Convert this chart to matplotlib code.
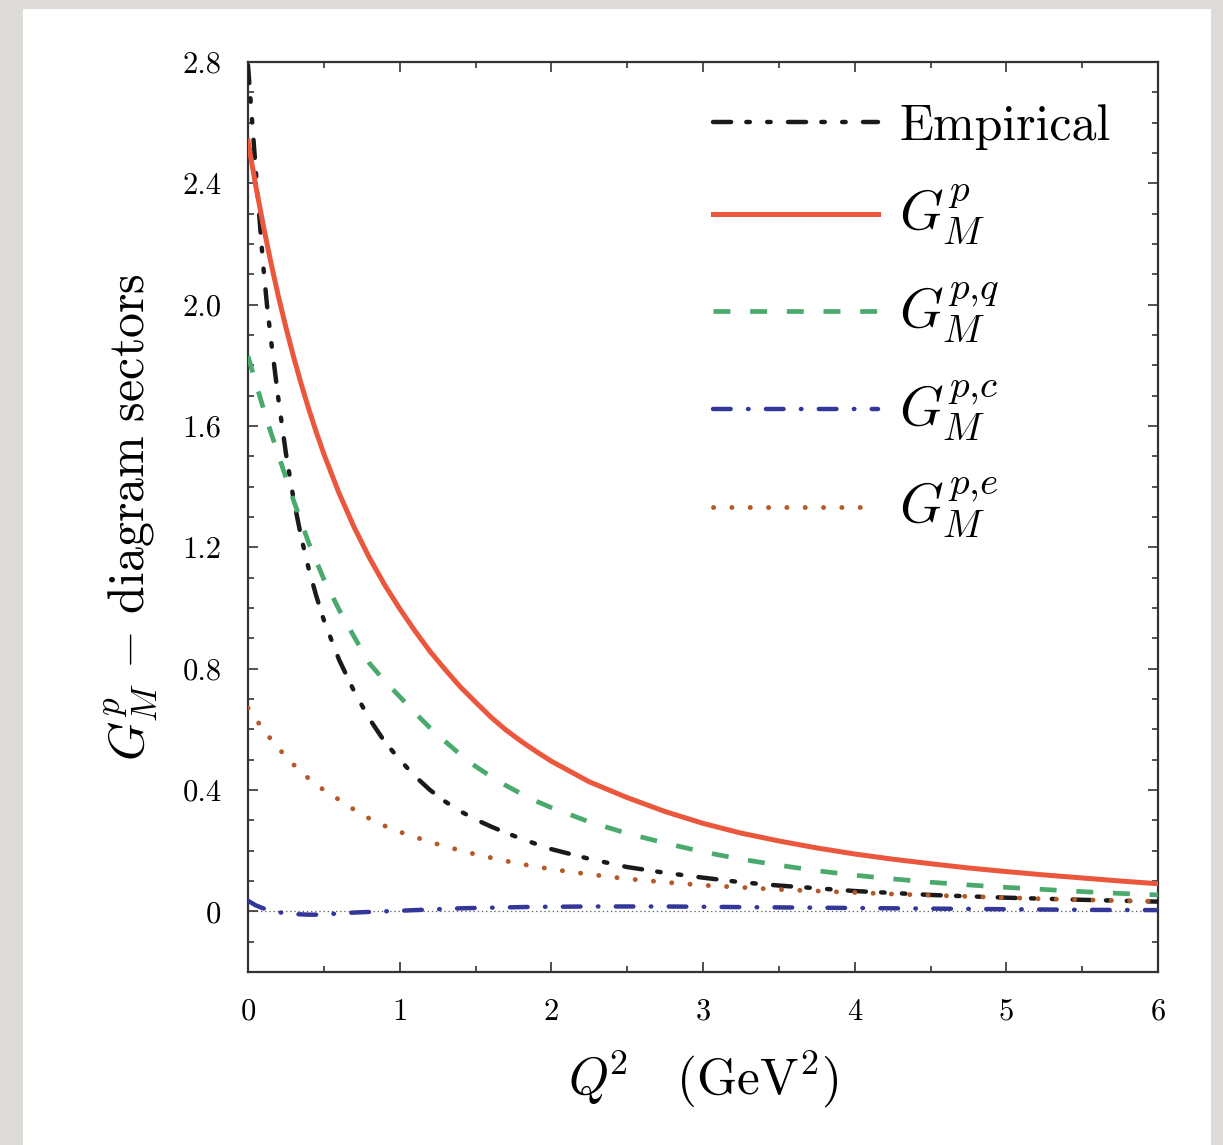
import matplotlib
matplotlib.use("Agg")
import matplotlib.pyplot as plt
from matplotlib.patches import Rectangle
from matplotlib.ticker import MultipleLocator, FixedLocator, FixedFormatter

plt.rcParams['font.family'] = 'serif'
plt.rcParams['font.serif'] = ['cmr10', 'DejaVu Serif']
plt.rcParams['mathtext.fontset'] = 'cm'
plt.rcParams['axes.unicode_minus'] = False
plt.rcParams['lines.scale_dashes'] = False

# ---- data ----
q2 = [0.0, 0.05, 0.1, 0.15, 0.2, 0.25, 0.3, 0.35, 0.4, 0.45, 0.5, 0.6, 0.7,
      0.8, 0.9, 1.0, 1.1, 1.2, 1.3, 1.4, 1.5, 1.6, 1.7, 1.8, 1.9, 2.0, 2.25,
      2.5, 2.75, 3.0, 3.25, 3.5, 3.75, 4.0, 4.25, 4.5, 4.75, 5.0, 5.25, 5.5,
      5.75, 6.0]

q2_emp = [0.0, 0.025, 0.05, 0.075, 0.1, 0.125, 0.15, 0.175, 0.2, 0.25, 0.3,
          0.35, 0.4, 0.45, 0.5, 0.6, 0.7, 0.8, 0.9, 1.0, 1.1, 1.2, 1.3, 1.4,
          1.5, 1.6, 1.7, 1.8, 1.9, 2.0, 2.25, 2.5, 2.75, 3.0, 3.25, 3.5, 3.75,
          4.0, 4.5, 5.0, 5.5, 6.0]
gm_empirical = [2.79, 2.62, 2.45, 2.29, 2.13, 2.00, 1.89, 1.79, 1.69, 1.51,
                1.36, 1.235, 1.13, 1.04, 0.96, 0.83, 0.725, 0.635, 0.56, 0.50,
                0.446, 0.40, 0.362, 0.330, 0.303, 0.280, 0.259, 0.240, 0.222,
                0.205, 0.173, 0.146, 0.127, 0.111, 0.096, 0.085, 0.076, 0.067,
                0.054, 0.045, 0.038, 0.032]

gm_p = [2.54, 2.395, 2.263, 2.141, 2.028, 1.925, 1.829, 1.740, 1.657, 1.580,
        1.508, 1.379, 1.266, 1.166, 1.077, 0.998, 0.925, 0.857, 0.797, 0.740,
        0.690, 0.641, 0.598, 0.561, 0.527, 0.495, 0.427, 0.375, 0.329, 0.290,
        0.258, 0.232, 0.209, 0.189, 0.172, 0.157, 0.143, 0.131, 0.120, 0.110,
        0.100, 0.091]
gm_pq = [1.83, 1.745, 1.66, 1.58, 1.505, 1.43, 1.355, 1.285, 1.215, 1.155,
         1.095, 0.995, 0.905, 0.818, 0.760, 0.708, 0.655, 0.605, 0.560, 0.517,
         0.478, 0.445, 0.415, 0.388, 0.363, 0.342, 0.295, 0.257, 0.225, 0.196,
         0.172, 0.152, 0.134, 0.119, 0.107, 0.096, 0.087, 0.079, 0.072, 0.065,
         0.059, 0.054]
gm_pc = [0.035, 0.020, 0.010, 0.003, -0.003, -0.006, -0.009, -0.010, -0.011,
         -0.011, -0.010, -0.007, -0.004, -0.002, 0.000, 0.002, 0.004, 0.006,
         0.008, 0.010, 0.011, 0.012, 0.013, 0.014, 0.015, 0.015, 0.016, 0.016,
         0.016, 0.015, 0.014, 0.013, 0.012, 0.011, 0.010, 0.009, 0.008, 0.007,
         0.006, 0.005, 0.0045, 0.004]
gm_pe = [0.67, 0.635, 0.60, 0.568, 0.538, 0.51, 0.484, 0.46, 0.438, 0.418,
         0.40, 0.368, 0.335, 0.306, 0.282, 0.262, 0.245, 0.229, 0.214, 0.201,
         0.188, 0.177, 0.166, 0.156, 0.147, 0.139, 0.122, 0.107, 0.096, 0.086,
         0.079, 0.072, 0.067, 0.062, 0.057, 0.053, 0.049, 0.045, 0.041, 0.038,
         0.035, 0.033]

labels = ['Empirical', r'$G_M^p$', r'$G_M^{p{,}q}$', r'$G_M^{p{,}c}$', r'$G_M^{p{,}e}$']

yticks = [0.0, 0.4, 0.8, 1.2, 1.6, 2.0, 2.4, 2.8]
yticklabels = ['0', '0.4', '0.8', '1.2', '1.6', '2.0', '2.4', '2.8']
xticks = [0, 1, 2, 3, 4, 5, 6]
xticklabels = ['0', '1', '2', '3', '4', '5', '6']

# ---- figure ----
fig = plt.figure(figsize=(12.23, 11.45), dpi=100)
fig.patch.set_facecolor('#dddbd7')
fig.patches.append(Rectangle((23 / 1223, 0), (1211 - 23) / 1223, 1 - 9 / 1145,
                             transform=fig.transFigure, facecolor='white',
                             edgecolor='none', zorder=-10))

ax = fig.add_axes([248 / 1223, 173 / 1145, 910 / 1223, 910 / 1145])
ax.set_facecolor('white')

ax.axhline(0, color='#666666', lw=0.9, ls=(0, (1, 2)), zorder=1)

ax.plot(q2_emp, gm_empirical, color='#1a1a1a', lw=3.2,
        ls=(0, (13, 11, 2.5, 12.5, 2.5, 12.5)), dash_capstyle='round',
        label=labels[0], zorder=3)
ax.plot(q2, gm_p, color='#eb573c', lw=3.6, ls='-', label=labels[1], zorder=4)
ax.plot(q2, gm_pq, color='#4aaa6e', lw=3.4, ls=(0, (12.2, 14.2)), label=labels[2], zorder=3)
ax.plot(q2, gm_pc, color='#34379a', lw=3.2, ls=(0, (12.7, 12.5, 0.4, 12.5)),
        dash_capstyle='round', label=labels[3], zorder=3)
ax.plot(q2, gm_pe, color='#b45a28', lw=3.5, ls=(0, (0.1, 13.1)),
        dash_capstyle='round', label=labels[4], zorder=3)

ax.set_xlim(0, 6)
ax.set_ylim(-0.2, 2.8)
ax.xaxis.set_major_locator(FixedLocator(xticks))
ax.xaxis.set_major_formatter(FixedFormatter(xticklabels))
ax.xaxis.set_minor_locator(MultipleLocator(0.5))
ax.yaxis.set_major_locator(FixedLocator(yticks))
ax.yaxis.set_major_formatter(FixedFormatter(yticklabels))
ax.yaxis.set_minor_locator(MultipleLocator(0.1))

ax.tick_params(which='both', direction='in', top=True, right=True,
               color='#333333', width=1.2)
ax.tick_params(which='major', length=7.5, labelsize=22, pad=19)
ax.tick_params(which='minor', length=4.5)
for s in ax.spines.values():
    s.set_linewidth(1.6)
    s.set_color('#333333')

ax.set_xlabel(r'$Q^{\!2}\ \ \ (\mathrm{GeV}^2)$', fontsize=37, labelpad=16)
ax.set_ylabel(r'$G_M^p\,-\,\mathrm{diagram\ sectors}$', fontsize=36, labelpad=16)

leg = ax.legend(loc='upper right', bbox_to_anchor=(0.981, 0.987), frameon=False,
                fontsize=36, handlelength=3.3, handletextpad=0.42,
                labelspacing=0.67, borderaxespad=0.2)
for t in leg.get_texts()[1:]:
    t.set_fontsize(40)

fig.savefig('out.png', dpi=100, facecolor=fig.get_facecolor())
